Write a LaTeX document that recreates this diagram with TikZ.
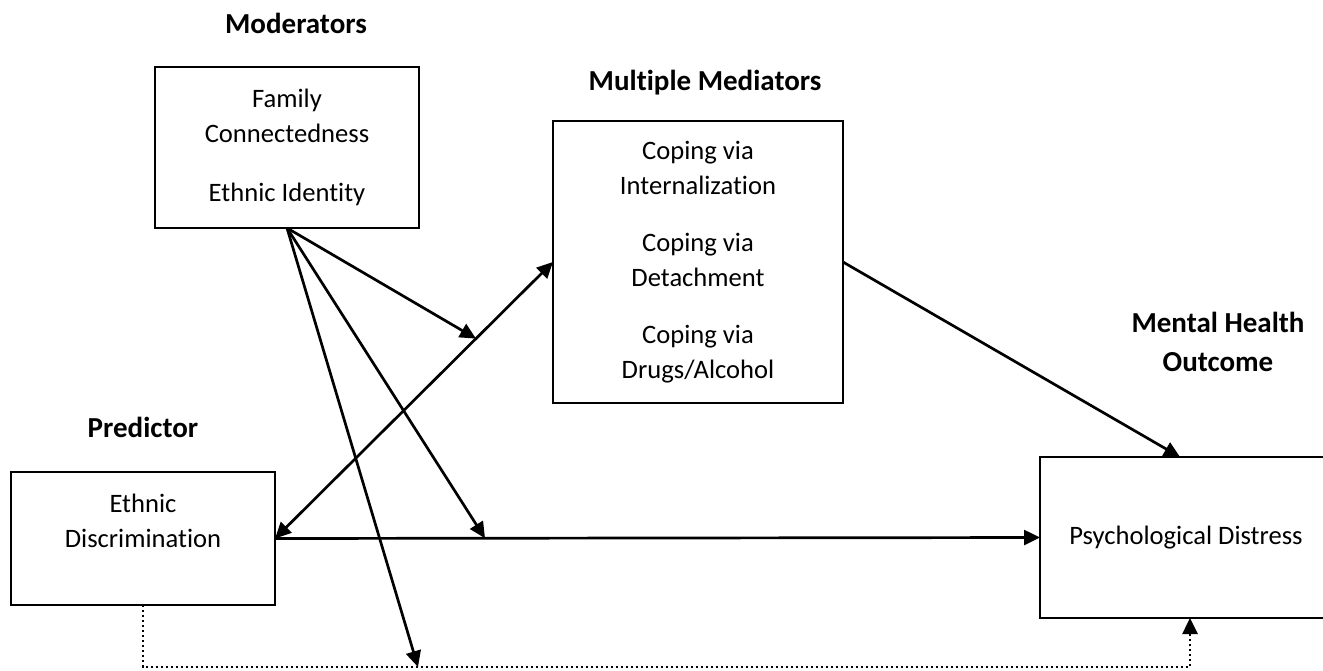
\documentclass[tikz,border=0pt]{standalone}
\usepackage{fontspec}
\setmainfont{Carlito}[Ligatures=NoCommon]
\usetikzlibrary{arrows.meta,calc}
\begin{document}
\begin{tikzpicture}[x=1pt,y=-1pt,
  box/.style={draw,line width=2.2pt,align=center,inner sep=0pt,outer sep=0pt,font=\fontsize{26.6}{35}\selectfont},
  txt/.style={align=center,inner sep=0pt,font=\fontsize{26.6}{35}\selectfont},
  head/.style={align=center,inner sep=0pt,font=\fontsize{29}{39}\selectfont\bfseries},
  arr/.style={line width=2.7pt,-{Triangle[length=16pt,width=15pt]}},
  dotline/.style={line width=2.6pt,dash pattern=on 2.4pt off 2.6pt}]
\clip (0,0) rectangle (1323,670);
\fill[white] (0,0) rectangle (1323,670);

\node[head] (hmod) at (296,23) {Moderators};
\node[head] (hmed) at (705,83) {Multiple Mediators};
\node[head] (hout) at (1218,342) {Mental Health\\Outcome};
\node[head] (hpred) at (143,427) {Predictor};

\node[box,minimum width=264pt,minimum height=161pt] (mod) at (287,147.5)
  {Family\\Connectedness\\[24pt]Ethnic Identity};
\node[box,minimum width=290pt,minimum height=282pt] (med) at (698,262)
  {Coping via\\Internalization\\[22pt]Coping via\\Detachment\\[22pt]Coping via\\Drugs/Alcohol};
\node[box,minimum width=264pt,minimum height=133pt] (pred) at (143,538.5) {};
\node[txt] (predtxt) at (143,521) {Ethnic\\Discrimination};
\node[box,minimum width=292pt,minimum height=161pt] (out) at (1186,537.5) {Psychological Distress};

\coordinate (t1) at ($(pred.east)!0.723!(med.west)$);
\coordinate (t2) at ($(pred.east)!0.2745!(out.west)$);
\coordinate (t3) at ($(pred.south)+(275,62)$);

\draw[line width=2.7pt,{Triangle[length=16pt,width=15pt]}-{Triangle[length=16pt,width=15pt]}] (pred.east) -- (med.west);
\draw[arr] (pred.east) -- (out.west);
\draw[arr] (med.east) -- ([xshift=-6pt]out.north);
\draw[dotline,-{Triangle[length=16pt,width=15pt]}] (pred.south) -- ++(0,62) -| ([xshift=4pt]out.south);

\draw[arr] (mod.south) -- (t1);
\draw[arr] (mod.south) -- (t2);
\draw[arr] (mod.south) -- (t3);
\end{tikzpicture}
\end{document}
